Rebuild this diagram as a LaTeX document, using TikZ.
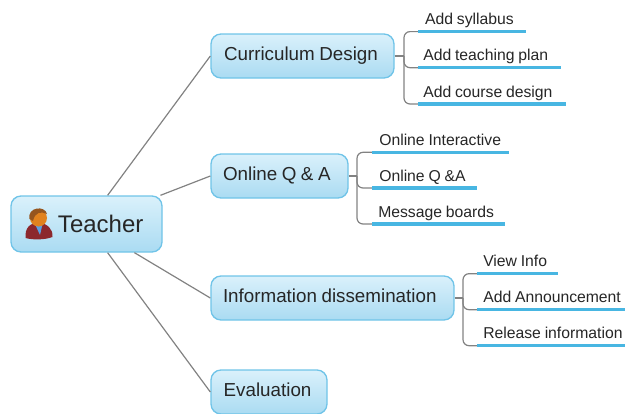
\documentclass[tikz,border=0pt]{standalone}
\usepackage{fontspec}
\setmainfont{Liberation Sans}
\definecolor{boxline}{RGB}{112,196,232}
\definecolor{boxtop}{RGB}{218,241,251}
\definecolor{boxbottom}{RGB}{170,219,242}
\definecolor{rule}{RGB}{72,182,226}
\definecolor{branch}{RGB}{130,130,130}
\definecolor{jacket}{RGB}{140,40,45}
\definecolor{skin}{RGB}{225,130,30}
\definecolor{hair}{RGB}{150,85,30}
\definecolor{tie}{RGB}{90,160,225}
\tikzset{
  topicbox/.style={draw=boxline,line width=1pt,rounded corners=7.5pt,top color=boxtop,bottom color=boxbottom,minimum height=33pt,inner sep=0pt,align=left,text width=#1,text height=9pt,text depth=2pt,font=\fontsize{14.1}{16}\selectfont,execute at begin node={\spaceskip=0.24em\relax},text=black!85},
  leaf/.style={anchor=south west,inner sep=0pt,align=left,text width=#1,text height=9pt,text depth=5pt,font=\fontsize{11.8}{14}\selectfont,execute at begin node={\spaceskip=0.24em\relax},text=black!85},
  spoke/.style={draw=branch,line width=0.9pt},
  elbow/.style={draw=branch,line width=0.9pt,rounded corners=4.5pt},
  underrule/.style={draw=rule,line width=2.6pt},
}
\begin{document}
\begin{tikzpicture}[x=0.75pt,y=0.75pt,yscale=-1,xscale=1]
\useasboundingbox (0,0) rectangle (625,414);

% Topics
\node (teacher) [topicbox=113.25pt,minimum height=42pt,text height=15pt,font=\fontsize{18}{20}\selectfont] at (86.5,224) {\hspace*{35.25pt}Teacher};
\node (curriculum) [topicbox=137.25pt] at (302.5,56) {\hspace*{9.75pt}Curriculum Design};
\node (onlineqa) [topicbox=102.75pt] at (279.5,176) {\hspace*{9pt}Online Q \& A};
\node (dissemination) [topicbox=182.25pt] at (332.5,298) {\hspace*{9pt}Information dissemination};
\node (evaluation) [topicbox=87pt] at (269,392) {\hspace*{9.5pt}Evaluation};

% Spokes
\draw [spoke] (teacher) -- (curriculum.west);
\draw [spoke] (teacher) -- (onlineqa.west);
\draw [spoke] (teacher) -- (dissemination.west);
\draw [spoke] (teacher) -- (evaluation.west);

% Person icon
\fill [jacket] (25.5,238) .. controls (25,228) and (29,224) .. (38,222) .. controls (48,224) and (53,229) .. (52.5,237) .. controls (45,240) and (32,240) .. (25.5,238) -- cycle;
\fill [tie] (34,222) -- (43,222) -- (40,235) -- cycle;
\fill [skin] (38.5,218) circle [radius=8.5];
\fill [hair] (29.5,219) .. controls (27,207) and (45,205) .. (47,214) .. controls (41,211) and (35,212) .. (33,221) -- cycle;

% Leaves of Curriculum Design
\node (syllabus) [leaf=80.25pt] at (418,31.6) {\hspace*{5.2pt}Add syllabus};
\node (teachingplan) [leaf=106.5pt] at (418,67.7) {\hspace*{3.75pt}Add teaching plan};
\node (coursedesign) [leaf=110.25pt] at (418,104) {\hspace*{3.75pt}Add course design};
\coordinate (curriculumfork) at (404,56);
\draw [spoke] (curriculum.east) -- (curriculumfork);
\draw [elbow] (syllabus.south west) -| (curriculumfork) |- (coursedesign.south west);
\draw [elbow] (curriculumfork) |- (teachingplan.south west);
\draw [underrule] (syllabus.south west) -- (syllabus.south east);
\draw [underrule] (teachingplan.south west) -- (teachingplan.south east);
\draw [underrule] (coursedesign.south west) -- (coursedesign.south east);

% Leaves of Online Q & A
\node (interactive) [leaf=102pt] at (372,152.3) {\hspace*{5.25pt}Online Interactive};
\node (onlineq) [leaf=78pt] at (372,188) {\hspace*{5.25pt}Online Q \&A};
\node (boards) [leaf=99pt] at (372,224) {\hspace*{4.5pt}Message boards};
\coordinate (onlinefork) at (357,176);
\draw [spoke] (onlineqa.east) -- (onlinefork);
\draw [elbow] (interactive.south west) -| (onlinefork) |- (boards.south west);
\draw [elbow] (onlinefork) |- (onlineq.south west);
\draw [underrule] (interactive.south west) -- (interactive.south east);
\draw [underrule] (onlineq.south west) -- (onlineq.south east);
\draw [underrule] (boards.south west) -- (boards.south east);

% Leaves of Information dissemination
\node (viewinfo) [leaf=60pt] at (477,273.7) {\hspace*{4.5pt}View Info};
\node (announcement) [leaf=111pt] at (477,309.7) {\hspace*{4.5pt}Add Announcement};
\node (release) [leaf=111pt] at (477,345.7) {\hspace*{4.5pt}Release information};
\coordinate (disseminationfork) at (463,298);
\draw [spoke] (dissemination.east) -- (disseminationfork);
\draw [elbow] (viewinfo.south west) -| (disseminationfork) |- (release.south west);
\draw [elbow] (disseminationfork) |- (announcement.south west);
\draw [underrule] (viewinfo.south west) -- (viewinfo.south east);
\draw [underrule] (announcement.south west) -- (announcement.south east);
\draw [underrule] (release.south west) -- (release.south east);

\end{tikzpicture}
\end{document}
